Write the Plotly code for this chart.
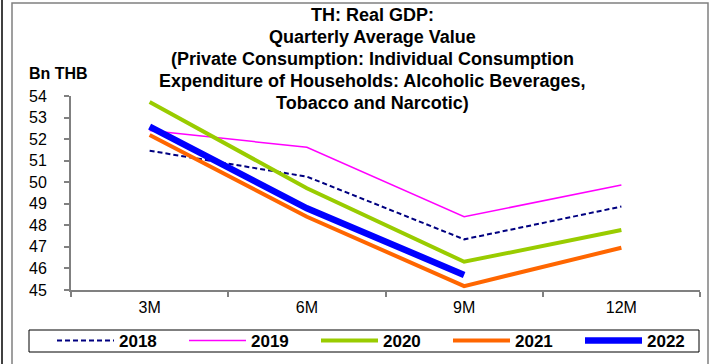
import plotly.graph_objects as go

categories = ["3M", "6M", "9M", "12M"]
s2018 = [51.46, 50.26, 47.35, 48.87]
s2019 = [52.40, 51.62, 48.40, 49.87]
s2020 = [53.72, 49.72, 46.31, 47.78]
s2021 = [52.19, 48.40, 45.18, 46.96]
s2022 = [52.58, 48.79, 45.70, None]
years = ["2018", "2019", "2020", "2021", "2022"]
title_lines = ["TH: Real GDP:", "Quarterly Average Value",
               "(Private Consumption: Individual Consumption",
               "Expenditure of Households: Alcoholic Beverages,",
               "Tobacco and Narcotic)"]

W, H = 712, 364
L, R, T, B = 71, 12, 96, 74
PW, PH = W - L - R, H - T - B

def px(x):
    return (x - L) / PW

def py(y):
    return (H - B - y) / PH

styles = [
    dict(color="#000080", width=2, dash="5px,3px"),
    dict(color="#FF00FF", width=1.5),
    dict(color="#99CC00", width=4),
    dict(color="#FF6600", width=4),
    dict(color="#0000FF", width=6.5),
]

fig = go.Figure()
for name, vals, st in zip(years, [s2018, s2019, s2020, s2021, s2022], styles):
    fig.add_trace(go.Scatter(x=categories, y=vals, mode="lines", name=name,
                             line=st, connectgaps=False))

font = "Arial, Liberation Sans, sans-serif"
annotations = []
ys = [15, 37, 59, 81, 103]
for t, yy in zip(title_lines, ys):
    annotations.append(dict(text="<b>" + t + "</b>", x=px(372), y=py(yy), xref="paper", yref="paper",
                            showarrow=False, xanchor="center", yanchor="middle",
                            font=dict(family=font, size=18, color="black")))
annotations.append(dict(text="<b>Bn THB</b>", x=px(58), y=py(73), xref="paper", yref="paper",
                        showarrow=False, xanchor="center", yanchor="middle",
                        font=dict(family=font, size=16, color="black")))

shapes = [
    dict(type="rect", xref="paper", yref="paper", x0=px(12), x1=px(708), y0=py(370), y1=py(3),
         line=dict(color="#808080", width=1.5), layer="below"),
    dict(type="line", xref="paper", yref="paper", x0=px(2), x1=px(2), y0=py(370), y1=py(-5),
         line=dict(color="black", width=1.5)),
    dict(type="rect", xref="paper", yref="paper", x0=px(29), x1=px(699), y0=py(352), y1=py(330),
         line=dict(color="black", width=1), layer="below"),
]

fig.update_layout(
    width=W, height=H,
    margin=dict(l=L, r=R, t=T, b=B, pad=0, autoexpand=False),
    paper_bgcolor="white", plot_bgcolor="white",
    showlegend=True,
    legend=dict(orientation="h", x=px(52), y=py(341), xanchor="left", yanchor="middle",
                borderwidth=0, bgcolor="rgba(0,0,0,0)",
                font=dict(family=font, size=17, color="black", weight="bold"),
                entrywidth=60, entrywidthmode="pixels", itemwidth=57,
                tracegroupgap=0),
    annotations=annotations,
    shapes=shapes,
    font=dict(family=font, size=15, color="black"),
)
fig.update_xaxes(type="category", range=[-0.5, 3.5], showline=True, linecolor="#808080", linewidth=2,
                 ticks="outside", ticklen=5, tickcolor="#808080", tickwidth=1.5, tickson="boundaries",
                 showgrid=False, zeroline=False, tickfont=dict(size=16), fixedrange=True,
                 ticklabelstandoff=2)
fig.update_yaxes(range=[45, 54], dtick=1, showline=True, linecolor="#808080", linewidth=2,
                 ticks="outside", ticklen=5, tickcolor="#808080", tickwidth=1.5,
                 showgrid=False, zeroline=False, tickfont=dict(size=16), fixedrange=True,
                 ticklabelstandoff=14)

fig.write_html("out.html", config={"displayModeBar": False},
               post_script="document.body.style.margin='0';document.body.style.overflow='hidden';")
